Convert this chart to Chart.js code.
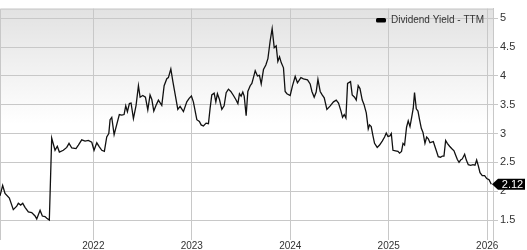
<!DOCTYPE html>
<html>
<head>
<meta charset="utf-8">
<script src="https://cdn.jsdelivr.net/npm/chart.js@4/dist/chart.umd.min.js"></script>
<style>
  body { margin: 0; background: #fff; overflow: hidden; }
  #wrap { width: 527px; height: 250px; }
</style>
</head>
<body>
<div id="wrap"><canvas id="yieldChart" width="527" height="250"></canvas></div>
<script>
// ── Data (decimal years) ─────────────────────────────────────────────────────
var years = [
  2021.052, 2021.079, 2021.103, 2021.147, 2021.187, 2021.222, 2021.238, 2021.262, 2021.283, 2021.306,
  2021.340, 2021.374, 2021.408, 2021.425, 2021.459, 2021.482, 2021.509, 2021.527, 2021.553, 2021.577,
  2021.611, 2021.634, 2021.655, 2021.695, 2021.730, 2021.753, 2021.781, 2021.824, 2021.848, 2021.882,
  2021.916, 2021.949, 2021.984, 2022.007, 2022.035, 2022.061, 2022.086, 2022.112, 2022.136, 2022.157,
  2022.170, 2022.187, 2022.211, 2022.238, 2022.264, 2022.289, 2022.312, 2022.329, 2022.346, 2022.366,
  2022.383, 2022.407, 2022.434, 2022.458, 2022.475, 2022.502, 2022.529, 2022.553, 2022.576, 2022.594,
  2022.614, 2022.637, 2022.661, 2022.695, 2022.719, 2022.746, 2022.762, 2022.787, 2022.807, 2022.830,
  2022.858, 2022.881, 2022.915, 2022.949, 2022.973, 2022.996, 2023.016, 2023.051, 2023.077, 2023.095,
  2023.118, 2023.145, 2023.169, 2023.186, 2023.203, 2023.227, 2023.244, 2023.260, 2023.281, 2023.305,
  2023.328, 2023.349, 2023.372, 2023.396, 2023.423, 2023.447, 2023.468, 2023.484, 2023.501, 2023.518,
  2023.532, 2023.552, 2023.569, 2023.593, 2023.610, 2023.626, 2023.644, 2023.667, 2023.687, 2023.705,
  2023.728, 2023.752, 2023.773, 2023.796, 2023.816, 2023.837, 2023.857, 2023.874, 2023.891, 2023.908,
  2023.931, 2023.948, 2023.966, 2023.999, 2024.023, 2024.050, 2024.073, 2024.108, 2024.134, 2024.175,
  2024.202, 2024.220, 2024.243, 2024.263, 2024.281, 2024.304, 2024.324, 2024.345, 2024.372, 2024.406,
  2024.439, 2024.467, 2024.490, 2024.515, 2024.531, 2024.548, 2024.565, 2024.582, 2024.612, 2024.629,
  2024.653, 2024.670, 2024.690, 2024.708, 2024.731, 2024.748, 2024.772, 2024.792, 2024.805, 2024.822,
  2024.840, 2024.856, 2024.883, 2024.907, 2024.934, 2024.958, 2024.975, 2024.992, 2025.012, 2025.026,
  2025.043, 2025.069, 2025.094, 2025.110, 2025.130, 2025.145, 2025.161, 2025.181, 2025.198, 2025.216,
  2025.232, 2025.249, 2025.262, 2025.280, 2025.297, 2025.313, 2025.331, 2025.348, 2025.368, 2025.385,
  2025.402, 2025.419, 2025.435, 2025.453, 2025.470, 2025.486, 2025.503, 2025.527, 2025.544, 2025.561,
  2025.578, 2025.595, 2025.618, 2025.639, 2025.663, 2025.679, 2025.697, 2025.714, 2025.730, 2025.747,
  2025.771, 2025.788, 2025.808, 2025.832, 2025.856, 2025.876, 2025.893, 2025.910, 2025.927, 2025.950,
  2025.974, 2025.995, 2026.019, 2026.042
];

var yieldTTM = [
  1.92, 2.10, 1.96, 1.88, 1.68, 1.74, 1.79, 1.76, 1.79, 1.72,
  1.64, 1.63, 1.57, 1.52, 1.67, 1.57, 1.56, 1.53, 1.50, 2.92,
  2.71, 2.78, 2.68, 2.71, 2.76, 2.83, 2.75, 2.74, 2.80, 2.89,
  2.87, 2.88, 2.85, 2.71, 2.84, 2.77, 2.71, 2.69, 2.94, 3.00,
  3.24, 3.28, 2.98, 3.16, 3.33, 3.32, 3.33, 3.48, 3.38, 3.52,
  3.53, 3.26, 3.49, 3.83, 3.63, 3.66, 3.63, 3.41, 3.67, 3.59,
  3.39, 3.49, 3.58, 3.49, 3.83, 3.95, 3.97, 4.12, 3.91, 3.69,
  3.42, 3.47, 3.38, 3.55, 3.61, 3.65, 3.55, 3.24, 3.21, 3.15,
  3.13, 3.18, 3.17, 3.44, 3.67, 3.70, 3.55, 3.69, 3.59, 3.42,
  3.48, 3.71, 3.77, 3.73, 3.66, 3.59, 3.52, 3.69, 3.65, 3.72,
  3.65, 3.31, 3.73, 3.83, 3.87, 3.97, 4.09, 4.00, 4.01, 3.86,
  4.11, 4.19, 4.30, 4.61, 4.82, 4.49, 4.52, 4.25, 4.33, 4.23,
  4.14, 3.73, 3.69, 3.66, 3.83, 3.99, 3.88, 3.97, 3.95, 3.93,
  3.86, 3.73, 3.63, 3.72, 3.94, 3.73, 3.67, 3.62, 3.42, 3.48,
  3.55, 3.58, 3.53, 3.39, 3.28, 3.33, 3.27, 3.87, 3.90, 3.67,
  3.63, 3.58, 3.83, 3.78, 3.58, 3.51, 3.36, 3.08, 3.15, 3.12,
  2.96, 2.83, 2.76, 2.80, 2.87, 2.94, 3.01, 2.95, 2.96, 3.00,
  2.71, 2.70, 2.69, 2.66, 2.69, 2.83, 2.80, 3.11, 3.22, 3.12,
  3.27, 3.44, 3.71, 3.43, 3.39, 3.24, 3.09, 3.02, 2.83, 2.94,
  2.91, 2.84, 2.85, 2.86, 2.77, 2.69, 2.60, 2.59, 2.61, 2.61,
  2.88, 2.83, 2.78, 2.74, 2.70, 2.63, 2.55, 2.50, 2.54, 2.56,
  2.64, 2.54, 2.46, 2.45, 2.46, 2.45, 2.54, 2.44, 2.32, 2.27,
  2.27, 2.22, 2.20, 2.12
];

var yearTicks  = [2022, 2023, 2024, 2025, 2026];
var yieldTicks = [1.5, 2, 2.5, 3, 3.5, 4, 4.5, 5];
var seriesName = 'Dividend Yield - TTM';
var lastLabel  = '2.12';

var GRID = '#c8c8c8';
var TEXT = '#333';
var FONT = '"Liberation Sans", Arial, sans-serif';

// ── Plugins ───────────────────────────────────────────────────────────────────
// gray-to-white plot background plus left/top frame
var plotBackground = {
  id: 'plotBackground',
  beforeDraw: function(chart) {
    var ctx = chart.ctx, a = chart.chartArea;
    ctx.save();
    ctx.fillStyle = '#fff';
    ctx.fillRect(0, 0, chart.width, chart.height);
    var g = ctx.createLinearGradient(0, a.top, 0, a.bottom);
    g.addColorStop(0, '#e2e2e2');
    g.addColorStop(0.5, '#ffffff');
    g.addColorStop(1, '#ffffff');
    ctx.fillStyle = g;
    ctx.fillRect(a.left, a.top, a.right - a.left, a.bottom - a.top);
    ctx.strokeStyle = GRID;
    ctx.lineWidth = 1;
    ctx.beginPath();
    ctx.moveTo(a.left + 0.5, a.bottom);
    ctx.lineTo(a.left + 0.5, a.top + 0.5);
    ctx.lineTo(a.right, a.top + 0.5);
    ctx.stroke();
    ctx.restore();
  }
};

// legend drawn inside the plot, top right
var cornerLegend = {
  id: 'cornerLegend',
  afterDatasetsDraw: function(chart) {
    var ctx = chart.ctx, a = chart.chartArea;
    ctx.save();
    ctx.font = '10px ' + FONT;
    ctx.fillStyle = TEXT;
    ctx.textAlign = 'right';
    ctx.textBaseline = 'middle';
    var right = a.right - 9, y = a.top + 12;
    ctx.fillText(seriesName, right, y);
    var w = ctx.measureText(seriesName).width;
    ctx.fillStyle = '#000';
    ctx.beginPath();
    ctx.roundRect(right - w - 15, y - 2.5, 10, 4.5, 1.5);
    ctx.fill();
    ctx.restore();
  }
};

// black tag with the latest value on the right axis
var lastValueTag = {
  id: 'lastValueTag',
  afterDraw: function(chart) {
    var ctx = chart.ctx, a = chart.chartArea;
    var y = chart.scales.y.getPixelForValue(yieldTTM[yieldTTM.length - 1]);
    var x0 = a.right - 1, x1 = x0 + 6, x2 = chart.width - 2;
    ctx.save();
    ctx.fillStyle = '#000';
    ctx.beginPath();
    ctx.moveTo(x0, y);
    ctx.lineTo(x1, y - 5.5);
    ctx.lineTo(x2, y - 5.5);
    ctx.lineTo(x2, y + 5.5);
    ctx.lineTo(x1, y + 5.5);
    ctx.closePath();
    ctx.fill();
    ctx.fillStyle = '#fff';
    ctx.font = '11px ' + FONT;
    ctx.textAlign = 'center';
    ctx.textBaseline = 'middle';
    ctx.fillText(lastLabel, (x1 + x2) / 2 + 1, y + 0.5);
    ctx.restore();
  }
};

// ── Chart ─────────────────────────────────────────────────────────────────────
var points = years.map(function(t, i) { return { x: t, y: yieldTTM[i] }; });

new Chart(document.getElementById('yieldChart'), {
  type: 'line',
  data: {
    datasets: [{
      label: seriesName, data: points,
      borderColor: '#111', backgroundColor: '#000',
      borderWidth: 1.3, pointRadius: 0, tension: 0
    }]
  },
  options: {
    responsive: false, animation: false, devicePixelRatio: 1,
    layout: { padding: 0 },
    plugins: { legend: { display: false }, tooltip: { enabled: false } },
    scales: {
      x: {
        type: 'linear', position: 'bottom', min: 2021.052, max: 2026.059,
        afterBuildTicks: function(s) { s.ticks = yearTicks.map(function(v) { return { value: v }; }); },
        afterFit: function(s) { s.height = 10; },
        grid: { color: GRID, lineWidth: 1, drawTicks: false },
        border: { display: false },
        ticks: {
          autoSkip: false, maxRotation: 0, padding: 0, color: TEXT,
          font: { family: FONT, size: 10 },
          callback: function(v) { return String(v); }
        }
      },
      y: {
        position: 'right', min: 1.154, max: 5.167,
        afterBuildTicks: function(s) { s.ticks = yieldTicks.map(function(v) { return { value: v }; }); },
        afterFit: function(s) { s.width = 34; },
        grid: { color: GRID, lineWidth: 1, tickLength: 5 },
        border: { display: true, color: GRID },
        ticks: {
          padding: 2, color: TEXT,
          font: { family: FONT, size: 11 },
          callback: function(v) { return String(v); }
        }
      }
    }
  },
  plugins: [plotBackground, cornerLegend, lastValueTag]
});
</script>
</body>
</html>
